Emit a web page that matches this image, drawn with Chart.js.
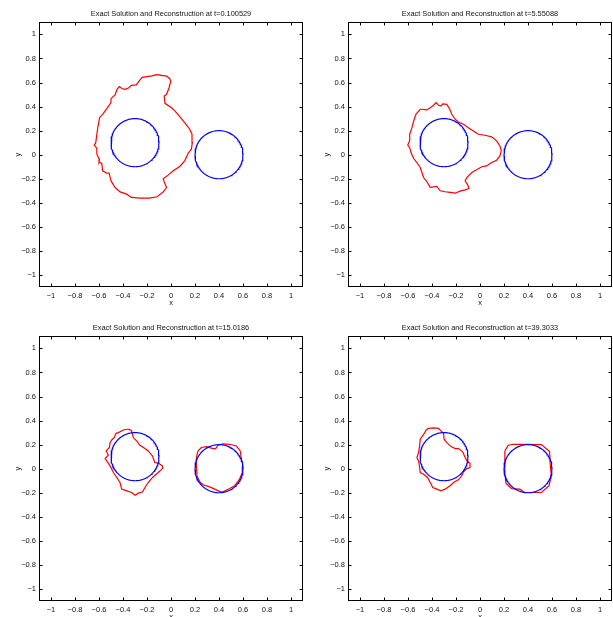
<!DOCTYPE html>
<html>
<head>
<meta charset="utf-8">
<script src="https://cdn.jsdelivr.net/npm/chart.js@4.4.1/dist/chart.umd.min.js"></script>
<style>
  html, body { margin: 0; padding: 0; background: #fff; }
  #fig { position: relative; width: 613px; height: 617px; overflow: hidden; background: #fff; }
  #fig canvas { position: absolute; }
</style>
</head>
<body>
<div id="fig">
  <canvas id="p1" width="306" height="310" style="left:0px;top:0px"></canvas>
  <canvas id="p2" width="306" height="310" style="left:309px;top:0px"></canvas>
  <canvas id="p3" width="306" height="310" style="left:0px;top:314px"></canvas>
  <canvas id="p4" width="306" height="310" style="left:309px;top:314px"></canvas>
</div>
<script>
// Snapshot times shown in the panel titles
const times = ['0.100529', '5.55088', '15.0186', '39.3033'];

// Axis ticks (same on x and y)
const tickValues = [-1, -0.8, -0.6, -0.4, -0.2, 0, 0.2, 0.4, 0.6, 0.8, 1];
const tickLabels = ['\u22121', '\u22120.8', '\u22120.6', '\u22120.4', '\u22120.2', '0', '0.2', '0.4', '0.6', '0.8', '1'];

// Exact solution: two circles
const circleCenterX = [-0.3, 0.4];
const circleCenterY = [0.1, 0];
const circleRadius = [0.2, 0.2];

// Reconstructed interfaces, [x, y] along each closed contour
const reconT1 = [
  [-0.08, 0.66], [-0.12, 0.665], [-0.16, 0.655], [-0.24, 0.643], [-0.26, 0.62], [-0.29, 0.58],
  [-0.33, 0.577], [-0.355, 0.555], [-0.38, 0.543], [-0.41, 0.55], [-0.43, 0.566], [-0.45, 0.543],
  [-0.465, 0.50], [-0.50, 0.466], [-0.50, 0.433], [-0.535, 0.383], [-0.57, 0.336], [-0.595, 0.308],
  [-0.61, 0.225], [-0.618, 0.17], [-0.627, 0.10], [-0.64, 0.08], [-0.618, 0.054], [-0.618, 0.004],
  [-0.595, -0.043], [-0.60, -0.06], [-0.577, -0.073], [-0.57, -0.134], [-0.535, -0.154], [-0.516, -0.154],
  [-0.50, -0.218], [-0.465, -0.273], [-0.424, -0.309], [-0.37, -0.328], [-0.33, -0.355], [-0.26, -0.361],
  [-0.18, -0.361], [-0.116, -0.35], [-0.065, -0.309], [-0.037, -0.273], [-0.057, -0.226], [-0.065, -0.20],
  [-0.024, -0.17], [0.018, -0.134], [0.073, -0.098], [0.114, -0.051], [0.142, 0.01], [0.17, 0.046],
  [0.178, 0.10], [0.175, 0.17], [0.156, 0.212], [0.114, 0.267], [0.073, 0.317], [0.032, 0.364],
  [0.004, 0.39], [-0.05, 0.427], [-0.057, 0.488], [-0.037, 0.502], [-0.016, 0.557], [-0.002, 0.612],
  [-0.01, 0.632], [-0.037, 0.654], [-0.08, 0.66]
];

const reconT2 = [
  [-0.603, 0.079], [-0.586, 0.115], [-0.586, 0.17], [-0.567, 0.225], [-0.553, 0.28], [-0.534, 0.336],
  [-0.498, 0.378], [-0.484, 0.378], [-0.443, 0.372], [-0.415, 0.391], [-0.387, 0.411], [-0.365, 0.433],
  [-0.346, 0.411], [-0.326, 0.405], [-0.31, 0.422], [-0.277, 0.419], [-0.255, 0.383], [-0.235, 0.336],
  [-0.207, 0.295], [-0.18, 0.272], [-0.138, 0.253], [-0.097, 0.225], [-0.055, 0.198], [-0.014, 0.17],
  [0.041, 0.162], [0.097, 0.148], [0.138, 0.115], [0.166, 0.073], [0.177, 0.032], [0.166, -0.01],
  [0.138, -0.046], [0.097, -0.065], [0.055, -0.093], [0.014, -0.10], [-0.028, -0.126], [-0.069, -0.148],
  [-0.11, -0.19], [-0.124, -0.217], [-0.102, -0.253], [-0.091, -0.281], [-0.124, -0.292], [-0.166, -0.303],
  [-0.207, -0.32], [-0.249, -0.314], [-0.29, -0.308], [-0.332, -0.30], [-0.36, -0.264], [-0.415, -0.272],
  [-0.448, -0.217], [-0.47, -0.19], [-0.484, -0.148], [-0.498, -0.106], [-0.526, -0.065], [-0.553, -0.032],
  [-0.575, 0.018], [-0.586, 0.06], [-0.603, 0.079]
];

const reconT3Left = [
  [-0.37, 0.328], [-0.397, 0.322], [-0.438, 0.30], [-0.458, 0.294], [-0.474, 0.258], [-0.494, 0.239],
  [-0.508, 0.217], [-0.513, 0.176], [-0.54, 0.148], [-0.522, 0.112], [-0.549, 0.084], [-0.53, 0.057],
  [-0.508, 0.024], [-0.48, -0.032], [-0.452, -0.073], [-0.425, -0.115], [-0.411, -0.17], [-0.37, -0.184],
  [-0.328, -0.198], [-0.30, -0.22], [-0.272, -0.203], [-0.236, -0.192], [-0.217, -0.156], [-0.19, -0.115],
  [-0.154, -0.073], [-0.107, -0.032], [-0.071, 0.001], [-0.071, 0.024], [-0.107, 0.046], [-0.135, 0.051],
  [-0.154, 0.106], [-0.19, 0.148], [-0.217, 0.167], [-0.259, 0.195], [-0.287, 0.231], [-0.314, 0.259],
  [-0.323, 0.295], [-0.328, 0.314], [-0.348, 0.328], [-0.37, 0.328]
];

const reconT3Right = [
  [0.225, 0.148], [0.253, 0.176], [0.295, 0.184], [0.35, 0.167], [0.372, 0.167], [0.392, 0.195],
  [0.433, 0.206], [0.489, 0.203], [0.544, 0.189], [0.577, 0.148], [0.585, 0.093], [0.599, 0.024],
  [0.594, -0.032], [0.571, -0.087], [0.53, -0.142], [0.489, -0.165], [0.433, -0.192], [0.411, -0.192],
  [0.364, -0.17], [0.322, -0.151], [0.267, -0.134], [0.239, -0.109], [0.217, -0.06], [0.211, 0.024],
  [0.211, 0.079], [0.217, 0.12], [0.225, 0.148]
];

const reconT4Left = [
  [-0.429, 0.336], [-0.387, 0.339], [-0.346, 0.336], [-0.326, 0.314], [-0.304, 0.295], [-0.299, 0.245],
  [-0.277, 0.217], [-0.241, 0.184], [-0.207, 0.167], [-0.18, 0.167], [-0.144, 0.14], [-0.124, 0.093],
  [-0.11, 0.065], [-0.083, 0.046], [-0.083, 0.01], [-0.11, 0.001], [-0.138, -0.026], [-0.152, -0.059],
  [-0.18, -0.093], [-0.221, -0.115], [-0.249, -0.142], [-0.29, -0.17], [-0.326, -0.184], [-0.36, -0.17],
  [-0.393, -0.156], [-0.415, -0.115], [-0.437, -0.073], [-0.47, -0.046], [-0.498, -0.032], [-0.503, 0.01],
  [-0.512, 0.065], [-0.526, 0.093], [-0.512, 0.134], [-0.503, 0.189], [-0.498, 0.245], [-0.47, 0.286],
  [-0.448, 0.322], [-0.429, 0.336]
];

const reconT4Right = [
  [0.207, 0.148], [0.235, 0.195], [0.277, 0.203], [0.373, 0.203], [0.512, 0.20], [0.58, 0.142],
  [0.586, 0.024], [0.595, -0.059], [0.575, -0.142], [0.512, -0.198], [0.373, -0.198], [0.332, -0.17],
  [0.263, -0.165], [0.216, -0.12], [0.207, -0.032], [0.207, 0.051], [0.207, 0.148]
];

const panelContours = [[reconT1], [reconT2], [reconT3Left, reconT3Right], [reconT4Left, reconT4Right]];

const FONT = "'Liberation Sans', Arial, Helvetica, sans-serif";
const TEXT = '#111';

// circle outline sampled around each exact-solution circle
function circlePoints(i) {
  const pts = [];
  const n = 144;
  for (let k = 0; k <= n; k++) {
    const a = (2 * Math.PI * k) / n;
    pts.push({ x: circleCenterX[i] + circleRadius[i] * Math.cos(a), y: circleCenterY[i] + circleRadius[i] * Math.sin(a) });
  }
  return pts;
}

// box around the axes with inward tick marks on all four sides
const frameTicks = {
  id: 'frameTicks',
  afterDraw(chart) {
    const { ctx, chartArea, scales } = chart;
    const L = Math.round(chartArea.left) + 0.5, R = Math.round(chartArea.right) - 0.5;
    const T = Math.round(chartArea.top) + 0.5, B = Math.round(chartArea.bottom) - 0.5;
    const len = 3;
    ctx.save();
    ctx.strokeStyle = '#000';
    ctx.lineWidth = 1;
    ctx.beginPath();
    tickValues.forEach(v => {
      const px = Math.round(scales.x.getPixelForValue(v)) + 0.5;
      ctx.moveTo(px, B); ctx.lineTo(px, B - len);
      ctx.moveTo(px, T); ctx.lineTo(px, T + len);
      const py = Math.round(scales.y.getPixelForValue(v)) + 0.5;
      ctx.moveTo(L, py); ctx.lineTo(L + len, py);
      ctx.moveTo(R, py); ctx.lineTo(R - len, py);
    });
    ctx.stroke();
    ctx.strokeRect(L, T, R - L, B - T);
    ctx.restore();
  }
};

function axis(letter, horizontal) {
  return {
    type: 'linear',
    min: -1.1,
    max: 1.1,
    afterBuildTicks: s => { s.ticks = tickValues.map(v => ({ value: v })); },
    afterFit: s => { if (horizontal) { s.height = 23; } else { s.width = 39; } },
    grid: { display: false, drawTicks: false },
    border: { display: false },
    ticks: {
      padding: horizontal ? 4 : 3,
      color: TEXT,
      font: { family: FONT, size: 7.5 },
      maxRotation: 0,
      autoSkip: false,
      callback: (v, i) => tickLabels[i]
    },
    title: {
      display: true,
      text: letter,
      color: TEXT,
      font: { family: FONT, size: 7.5, lineHeight: 1 },
      padding: horizontal ? { top: 0, bottom: 3 } : { top: 14, bottom: 0 }
    }
  };
}

['p1', 'p2', 'p3', 'p4'].forEach((id, p) => {
  const datasets = [];
  panelContours[p].forEach(c => {
    datasets.push({
      data: c.map(([x, y]) => ({ x, y })),
      showLine: true,
      borderColor: '#ff0000',
      borderWidth: 1.2,
      pointRadius: 0,
      tension: 0,
      fill: false,
      order: 1
    });
  });
  circleCenterX.forEach((_, i) => {
    datasets.push({
      data: circlePoints(i),
      showLine: true,
      borderColor: '#0000ff',
      borderWidth: 1.2,
      pointRadius: 0,
      tension: 0,
      fill: false,
      order: 0
    });
  });

  new Chart(document.getElementById(id), {
    type: 'scatter',
    data: { datasets },
    options: {
      responsive: false,
      animation: false,
      events: [],
      layout: { padding: { left: 0, right: 3, top: 0, bottom: 0 }, autoPadding: false },
      plugins: {
        legend: { display: false },
        tooltip: { enabled: false },
        title: {
          display: true,
          text: 'Exact Solution and Reconstruction at t=' + times[p],
          fullSize: false,
          color: TEXT,
          font: { family: FONT, size: 7.4, weight: 'normal', lineHeight: 1 },
          padding: { top: 10, bottom: 5 }
        }
      },
      scales: { x: axis('x', true), y: axis('y', false) }
    },
    plugins: [frameTicks]
  });
});
</script>
</body>
</html>
